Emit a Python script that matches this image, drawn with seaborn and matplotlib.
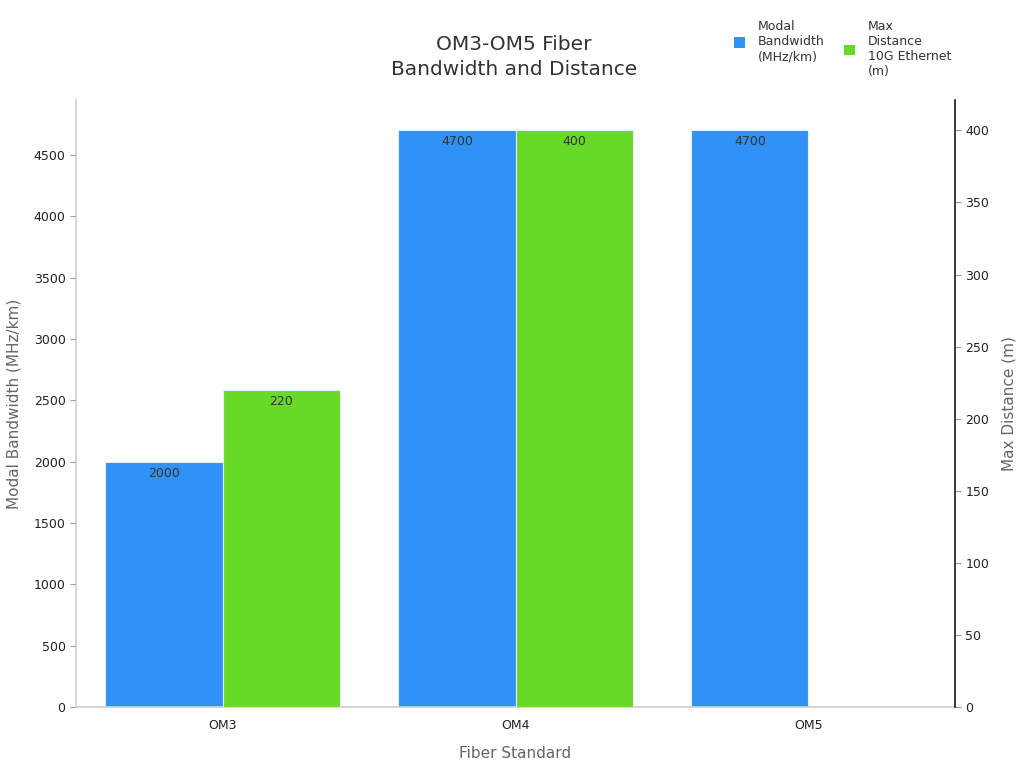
import numpy as np
import pandas as pd
import matplotlib
matplotlib.use("Agg")
import matplotlib.pyplot as plt
import seaborn as sns
from matplotlib.patches import Patch

categories = ["OM3", "OM4", "OM5"]
bandwidth = [2000, 4700, 4700]
distance = [220, 400, np.nan]
series_names = ["Modal\nBandwidth\n(MHz/km)", "Max\nDistance\n10G Ethernet\n(m)"]
colors = ["#3091F6", "#66DA26"]

sns.set_theme(style="white")
plt.rcParams['font.family'] = ['DejaVu Sans']

n = len(categories)
df1 = pd.DataFrame({"cat": categories * 2,
                    "series": [series_names[0]] * n + [series_names[1]] * n,
                    "val": bandwidth + [np.nan] * n})
df2 = pd.DataFrame({"cat": categories * 2,
                    "series": [series_names[0]] * n + [series_names[1]] * n,
                    "val": [np.nan] * n + distance})

fig = plt.figure(figsize=(10.24, 7.68), dpi=100)
ax1 = fig.add_axes([76/1024, 61/768, (955-76)/1024, (707-100)/768])
ax2 = ax1.twinx()

pal = dict(zip(series_names, colors))
sns.barplot(data=df1, x="cat", y="val", hue="series", hue_order=series_names,
            order=categories, palette=pal, ax=ax1, width=0.8, dodge=True,
            saturation=1, edgecolor="#e8eef5", linewidth=0.8, legend=False,
            errorbar=None)
sns.barplot(data=df2, x="cat", y="val", hue="series", hue_order=series_names,
            order=categories, palette=pal, ax=ax2, width=0.8, dodge=True,
            saturation=1, edgecolor="#e8eef5", linewidth=0.8, legend=False,
            errorbar=None)

ax1.set_xlim(-0.5, 2.5)
ax1.set_ylim(0, np.nanmax(bandwidth) / 0.95)
ax2.set_ylim(0, np.nanmax(distance) / 0.95)
ax1.set_yticks(np.arange(0, 4501, 500))
ax2.set_yticks(np.arange(0, 401, 50))

for ax in (ax1, ax2):
    for c in ax.containers:
        labels = ["" if np.isnan(v) else f"{v:.0f}" for v in c.datavalues]
        ax.bar_label(c, labels=labels, padding=-13, fontsize=9, color="#333333")

ax1.set_xlabel("Fiber Standard", fontsize=11, color="#666666", labelpad=10)
ax1.set_ylabel("Modal Bandwidth (MHz/km)", fontsize=11, color="#666666", labelpad=9)
ax2.set_ylabel("Max Distance (m)", fontsize=11, color="#666666", labelpad=9)

for ax in (ax1, ax2):
    ax.spines["top"].set_visible(False)
    ax.tick_params(axis="both", labelsize=9, colors="#222222", length=4, width=0.8)
ax1.tick_params(axis="y", color="#999999", length=4)
ax1.tick_params(axis="x", color="#333333", length=5)
ax2.tick_params(axis="y", color="#999999", length=4)
ax1.spines["left"].set_color("#d0d0d0")
ax1.spines["bottom"].set_color("#d0d0d0")
ax1.spines["right"].set_visible(False)
ax2.spines["left"].set_visible(False)
ax2.spines["bottom"].set_visible(False)
ax2.spines["right"].set_color("#222222")

fig.suptitle("OM3-OM5 Fiber\nBandwidth and Distance", x=0.502, y=0.955,
             fontsize=14.5, color="#333333", linespacing=1.4)

anchors = [(0.706, 0.988), (0.813, 0.988)]
for i in range(2):
    leg = fig.legend([Patch(facecolor=colors[i], edgecolor="none")], [series_names[i]],
                     loc="upper left", bbox_to_anchor=anchors[i],
                     frameon=False, fontsize=9, handlelength=0.9, handleheight=0.9,
                     handletextpad=1.0, labelcolor="#333333")

fig.savefig("out.png", dpi=100)
